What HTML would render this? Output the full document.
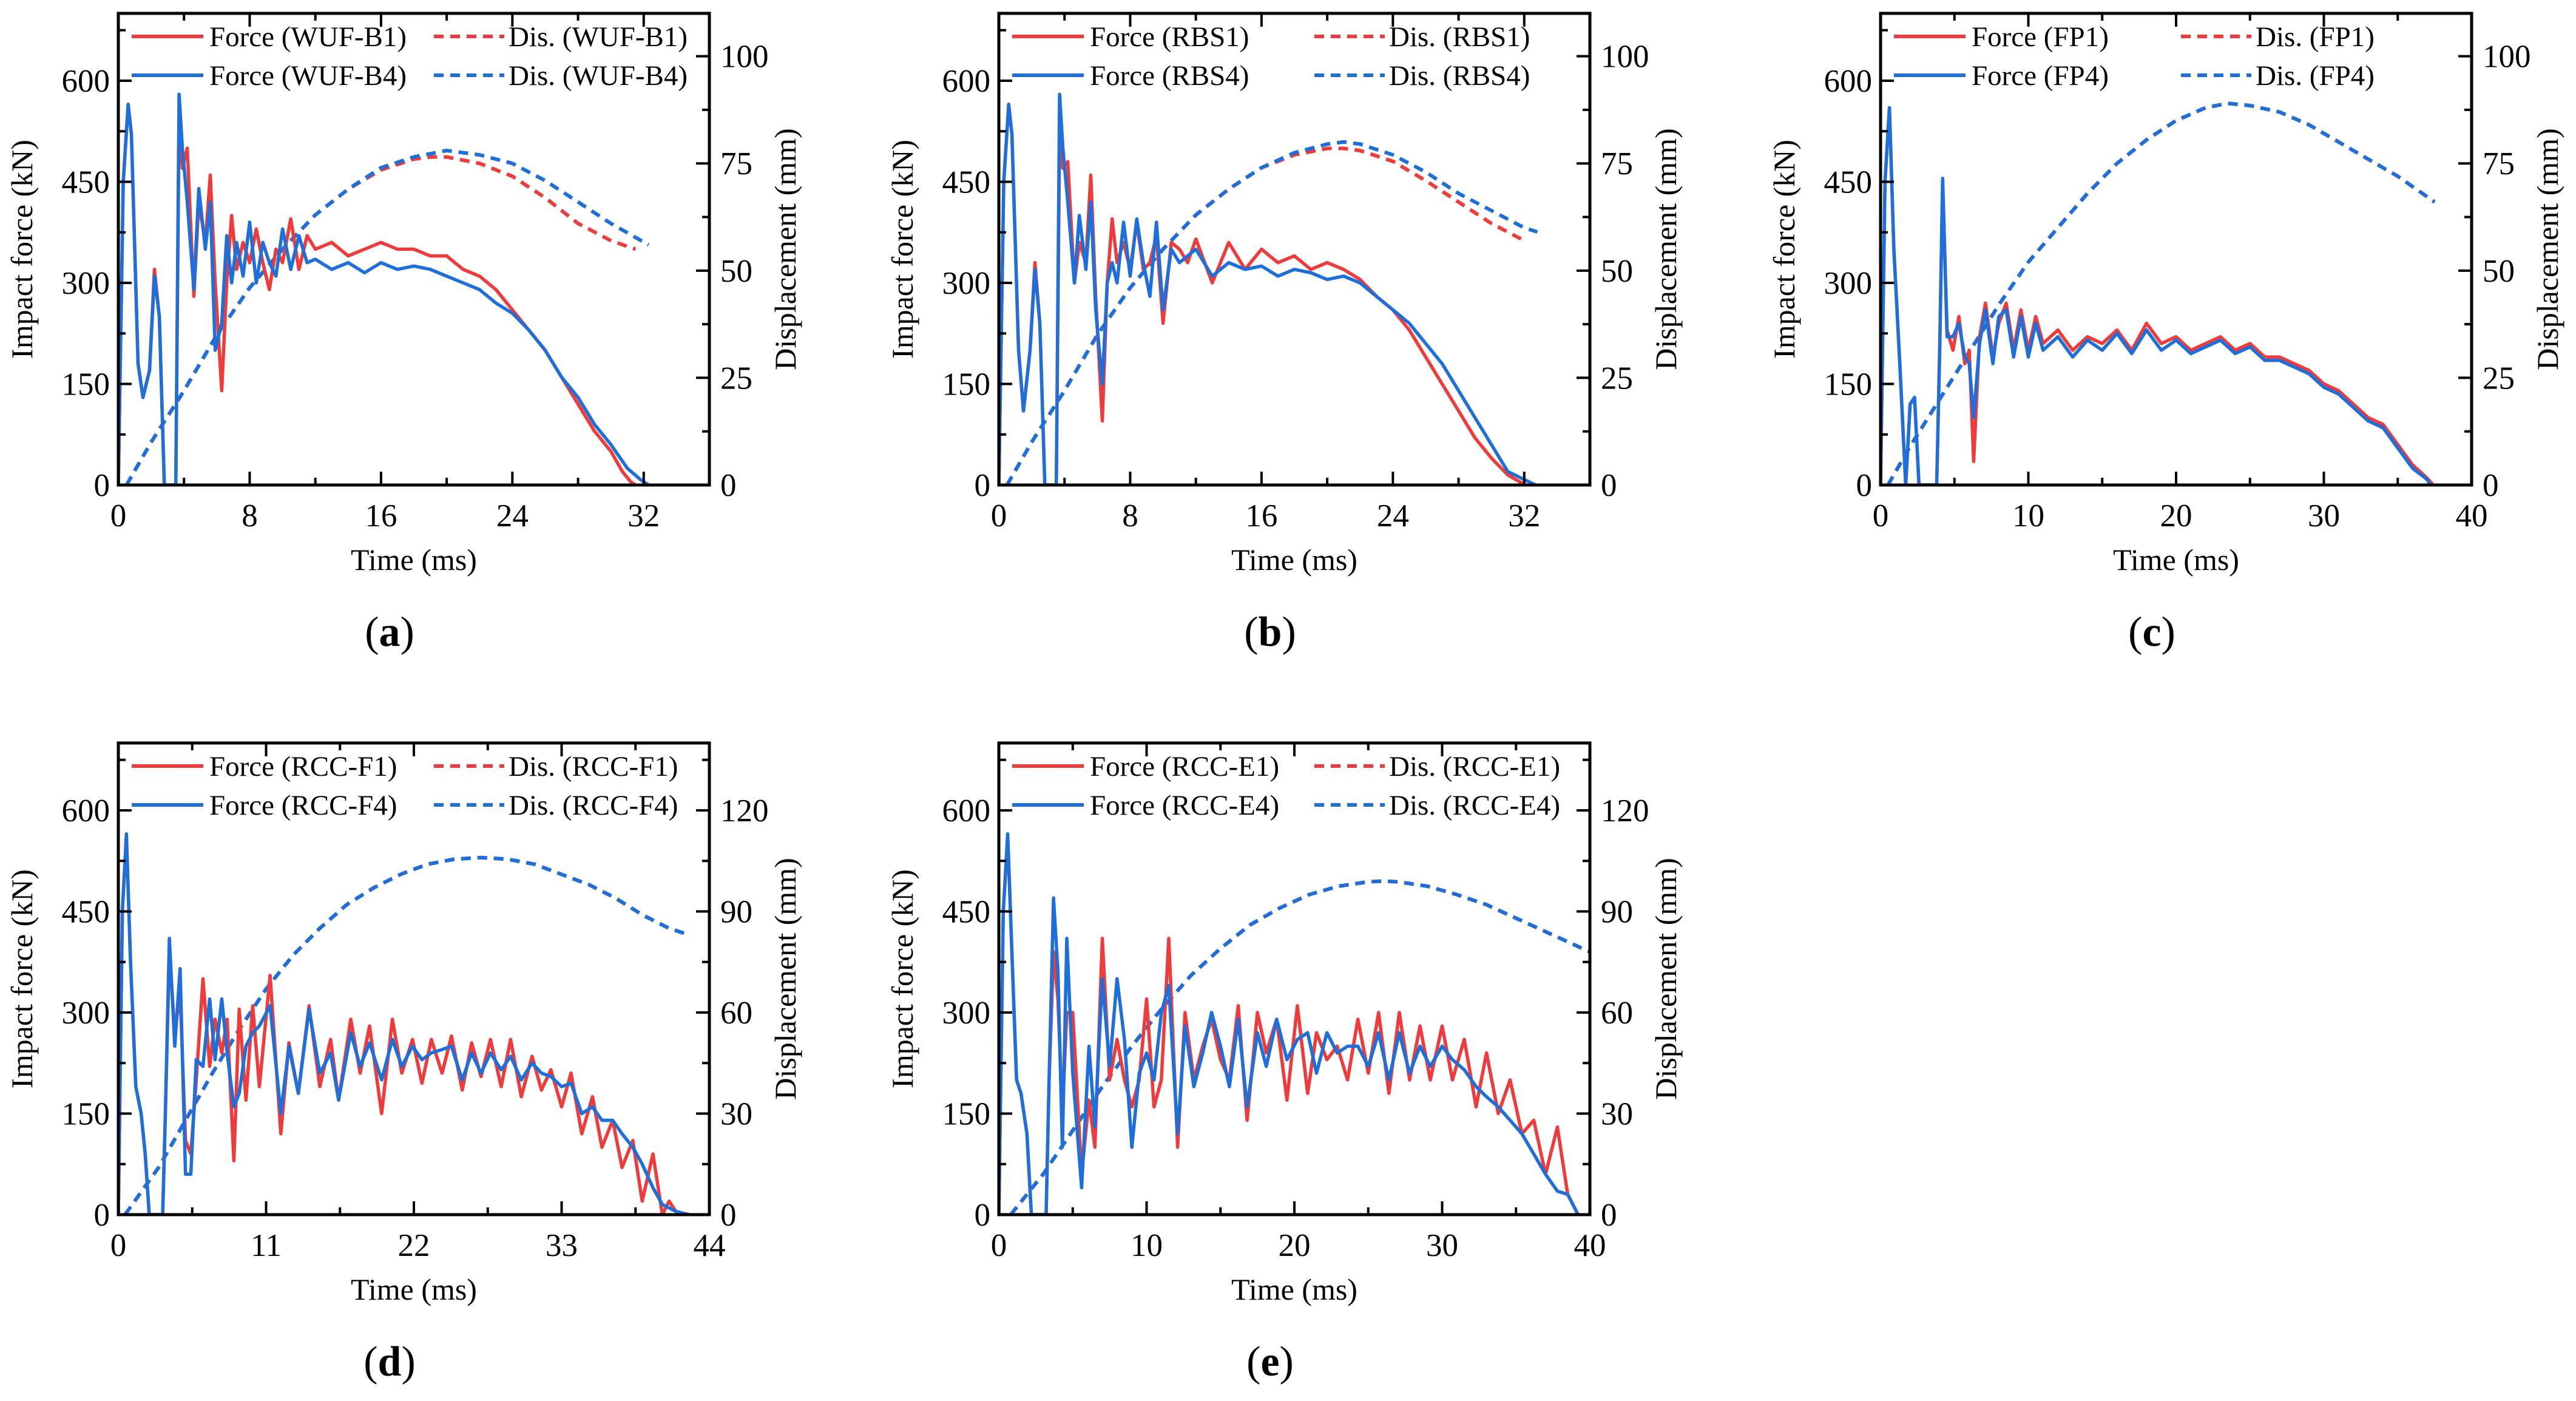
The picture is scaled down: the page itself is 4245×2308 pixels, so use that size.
<!DOCTYPE html>
<html><head><meta charset="utf-8">
<style>
html,body{margin:0;padding:0;background:#fff;}
svg{display:block;font-family:"Liberation Serif","Times New Roman",serif;}
</style></head>
<body>
<svg id="fig" width="4245" height="2308" viewBox="0 0 4245 2308" xmlns="http://www.w3.org/2000/svg"></svg>
<script>
// ---------- Panel (a) WUF ----------
const aF1t=[0,0.3,0.6,0.8,1.2,1.5,1.9,2.2,2.5,2.8,3.1,3.5,3.7,3.9,4.2,4.6,4.9,5.3,5.6,5.9,6.3,6.6,6.9,7.2,7.6,8,8.4,8.8,9.2,9.6,10,10.5,11,11.5,12,13,14,15,16,17,18,19,20,21,22,23,24,25,26,27,28,29,30,30.7,31.2,31.5];
const aF1v=[0,450,565,520,180,130,170,320,250,0,0,0,540,470,500,280,420,360,460,300,140,300,400,320,360,330,380,330,290,350,330,395,320,370,350,360,340,350,360,350,350,340,340,320,310,290,260,230,200,160,120,80,50,20,5,0];
const aF4t=[0,0.3,0.6,0.8,1.2,1.5,1.9,2.2,2.5,2.8,3.1,3.5,3.7,3.9,4.2,4.6,4.9,5.3,5.6,5.9,6.3,6.6,6.9,7.2,7.6,8,8.4,8.8,9.2,9.6,10,10.5,11,11.5,12,13,14,15,16,17,18,19,20,21,22,23,24,25,26,27,28,29,30,31,31.8,32.3];
const aF4v=[0,450,565,520,180,130,170,310,250,0,0,0,580,500,420,290,440,350,420,200,240,370,300,360,310,390,300,360,330,310,380,320,370,330,335,320,330,315,330,320,325,320,310,300,290,270,255,230,200,160,130,90,60,25,8,0];
const aD1t=[0.5,2,4,6,8,10,12,14,16,18,19,20,22,24,26,28,30,31.5];
const aD1v=[0,10,22,35,46,55,63,69,73.5,76,76.5,76.5,75,72,67,61,57,55];
const aD4t=[0.5,2,4,6,8,10,12,14,16,18,20,22,24,26,28,30,32.3];
const aD4v=[0,10,22,35,46,55,63,69,74,76.5,78,77,75,71,66,61,56];
// ---------- Panel (b) RBS ----------
const bF1t=[0,0.3,0.6,0.8,1.2,1.5,1.9,2.2,2.5,2.8,3.1,3.5,3.7,3.9,4.2,4.6,4.9,5.3,5.6,5.9,6.3,6.6,6.9,7.2,7.6,8,8.4,8.8,9.2,9.6,10,10.5,11,11.5,12,13,14,15,16,17,18,19,20,21,22,23,24,25,26,27,28,29,30,31,31.7,32.1];
const bF1v=[0,450,565,520,200,110,200,330,240,0,0,0,520,470,480,300,360,330,460,280,95,300,395,330,360,320,390,320,330,370,240,360,350,330,365,300,360,320,350,330,340,320,330,320,305,280,260,230,190,150,110,70,40,15,5,0];
const bF4t=[0,0.3,0.6,0.8,1.2,1.5,1.9,2.2,2.5,2.8,3.1,3.5,3.7,3.9,4.2,4.6,4.9,5.3,5.6,5.9,6.3,6.6,6.9,7.2,7.6,8,8.4,8.8,9.2,9.6,10,10.5,11,11.5,12,13,14,15,16,17,18,19,20,21,22,23,24,25,26,27,28,29,30,31,32,32.7];
const bF4v=[0,450,565,520,200,110,200,320,240,0,0,0,580,500,420,300,400,320,420,260,150,300,330,300,390,310,395,330,280,390,260,350,330,340,350,310,330,320,325,310,320,315,305,310,300,280,260,240,210,180,140,100,60,20,8,0];
const bD1t=[0.5,2,4,6,8,10,12,14,16,18,20,21,22,24,26,28,30,32];
const bD1v=[0,10,22,35,46,55,63,69,74,77,78.5,78.5,78,75.5,71,66,61,57];
const bD4t=[0.5,2,4,6,8,10,12,14,16,18,20,21,22,24,26,28,30,32,32.8];
const bD4v=[0,10,22,35,46,55,63,69,74,77.5,79.5,80,79.5,77,73,68,64,60,59];
// ---------- Panel (c) FP ----------
const cF1t=[0,0.3,0.6,0.9,1.3,1.7,2.0,2.3,2.6,2.9,3.3,3.8,4.0,4.2,4.5,4.9,5.3,5.7,6.0,6.3,6.7,7.1,7.6,8,8.5,9,9.5,10,10.5,11,12,13,14,15,16,17,18,19,20,21,22,23,24,25,26,27,28,29,30,31,32,33,34,35,36,37,37.4];
const cF1v=[0,450,560,350,180,0,120,130,0,0,0,0,200,450,230,200,250,180,200,35,220,270,190,240,270,200,260,200,250,210,230,200,220,210,230,200,240,210,220,200,210,220,200,210,190,190,180,170,150,140,120,100,90,60,30,10,0];
const cF4t=[0,0.3,0.6,0.9,1.3,1.7,2.0,2.3,2.6,2.9,3.3,3.8,4.0,4.2,4.5,4.9,5.3,5.7,6.0,6.3,6.7,7.1,7.6,8,8.5,9,9.5,10,10.5,11,12,13,14,15,16,17,18,19,20,21,22,23,24,25,26,27,28,29,30,31,32,33,34,35,36,37,37.2];
const cF4v=[0,450,560,350,180,0,120,130,0,0,0,0,200,455,220,220,240,190,180,100,210,260,180,250,260,190,250,190,240,200,220,190,215,200,225,195,230,200,215,195,205,215,195,205,185,185,175,165,145,135,115,95,85,55,25,8,0];
const cD1t=[0.5,2,4,6,8,10,12,14,16,18,20,22,23.5,25,27,29,31,33,35,37.5];
const cD1v=[0,9,20,31,42,52,60,68,75,80.5,85,88,89,88.5,87,84,80,76,72,66];
const cD4t=[0.5,2,4,6,8,10,12,14,16,18,20,22,23.5,25,27,29,31,33,35,37.5];
const cD4v=[0,9,20,31,42,52,60,68,75,80.5,85,88,89,88.5,87,84,80,76,72,66];
// ---------- Panel (d) RCC-F ----------
const dF1t=[0,0.3,0.6,0.9,1.3,1.7,2.0,2.3,3.3,3.5,3.8,4.2,4.6,5.0,5.4,5.8,6.3,6.8,7.2,7.7,8.1,8.6,9.0,9.5,10,10.5,11.3,12.1,12.7,13.4,14.2,15,15.8,16.4,17.3,18,18.7,19.6,20.4,21.1,21.9,22.6,23.3,24.1,24.8,25.6,26.3,27,27.7,28.5,29.2,30,30.8,31.5,32.2,33,33.7,34.5,35.3,36,36.8,37.5,38.3,39,39.8,40.5,41,41.5,42];
const dF1v=[0,450,560,380,190,150,90,0,0,150,390,270,330,110,90,200,350,220,290,240,290,80,305,170,310,190,355,120,255,180,310,190,260,170,290,210,280,150,290,210,260,195,260,210,265,185,255,205,260,190,260,175,235,185,215,160,210,120,175,100,140,70,110,20,90,0,20,5,0];
const dF4t=[0,0.3,0.6,0.9,1.3,1.7,2.0,2.3,3.3,3.5,3.8,4.2,4.6,5.0,5.4,5.8,6.3,6.8,7.2,7.7,8.1,8.6,9.0,9.5,10,10.5,11.3,12.1,12.7,13.4,14.2,15,15.8,16.4,17.3,18,18.7,19.6,20.4,21.1,21.9,22.6,23.3,24.1,24.8,25.6,26.3,27,27.7,28.5,29.2,30,30.8,31.5,32.2,33,33.7,34.5,35.3,36,36.8,37.5,38.3,39,39.8,40.5,41,41.5,42.5];
const dF4v=[0,450,565,380,190,150,90,0,0,150,410,250,365,60,60,230,220,320,230,320,240,160,180,250,270,280,310,150,250,180,305,210,240,170,270,220,255,200,260,220,250,230,240,245,250,200,240,210,240,215,235,200,225,210,205,190,195,150,160,140,140,120,100,75,40,15,10,5,0];
const dD1t=[0.5,3,5,7,9,11,13,15,17,19,21,23,25,27,29,31,33,35,37,39,41,42.5];
const dD1v=[0,14,28,42,55,67,77,85,92,97,101,104,105.5,106,105.5,104,101,98,94,89,85,83];
const dD4t=[0.5,3,5,7,9,11,13,15,17,19,21,23,25,27,29,31,33,35,37,39,41,42.5];
const dD4v=[0,14,28,42,55,67,77,85,92,97,101,104,105.5,106,105.5,104,101,98,94,89,85,83];
// ---------- Panel (e) RCC-E ----------
const eF1t=[0,0.3,0.6,0.9,1.2,1.5,1.9,2.2,3.2,3.4,3.7,4.0,4.3,4.6,5.0,5.6,6.1,6.5,7.0,7.5,8.0,8.5,9.0,9.5,10,10.5,11,11.5,12.1,12.6,13.2,13.8,14.4,15,15.6,16.2,16.8,17.5,18.1,18.8,19.5,20.2,20.9,21.5,22.2,22.9,23.6,24.3,25,25.7,26.4,27.1,27.8,28.5,29.2,30,30.7,31.5,32.3,33,33.8,34.6,35.4,36.2,37,37.8,38.5,39.2];
const eF1v=[0,450,560,380,200,180,120,0,0,200,390,320,150,300,300,60,170,100,410,200,260,200,160,200,320,160,200,410,100,300,200,250,290,230,200,310,140,300,240,290,170,310,180,270,230,250,200,290,210,300,180,300,200,280,200,280,200,260,160,240,150,200,120,140,60,130,30,0];
const eF4t=[0,0.3,0.6,0.9,1.2,1.5,1.9,2.2,3.2,3.4,3.7,4.0,4.3,4.6,5.0,5.6,6.1,6.5,7.0,7.5,8.0,8.5,9.0,9.5,10,10.5,11,11.5,12.1,12.6,13.2,13.8,14.4,15,15.6,16.2,16.8,17.5,18.1,18.8,19.5,20.2,20.9,21.5,22.2,22.9,23.6,24.3,25,25.7,26.4,27.1,27.8,28.5,29.2,30,30.7,31.5,32.3,33,33.8,34.6,35.4,36.2,37,37.8,38.5,39.2];
const eF4v=[0,450,565,380,200,180,120,0,0,200,470,360,100,410,210,40,250,130,350,220,350,260,100,210,240,200,300,340,120,280,190,240,300,250,190,290,160,270,220,290,230,260,270,210,270,240,250,250,220,270,200,270,210,250,220,250,230,215,190,175,160,140,120,90,60,35,30,0];
const eD1t=[0.8,3,5,7,9,11,13,15,17,19,21,23,25,26,27,29,31,33,35,37,40];
const eD1v=[0,12,25,38,50,61,71,79,86,91,95,97.5,98.8,99,98.8,97.5,95,92,88,84,78];
const eD4t=[0.8,3,5,7,9,11,13,15,17,19,21,23,25,26,27,29,31,33,35,37,40];
const eD4v=[0,12,25,38,50,61,71,79,86,91,95,97.5,98.8,99,98.8,97.5,95,92,88,84,78];
// ---------- Tick labels ----------
const xTicksA=[0,8,16,24,32];
const xTicksC=[0,10,20,30,40];
const xTicksD=[0,11,22,33,44];
const yTicksL=[0,150,300,450,600];
const yTicksR1=[0,25,50,75,100];
const yTicksR2=[0,30,60,90,120];

const NS="http://www.w3.org/2000/svg";
const svg=document.getElementById('fig');
const RED="#ee3b3b", BLUE="#1f6fdb";
function mk(tag,attrs,parent){const e=document.createElementNS(NS,tag);for(const k in attrs)e.setAttribute(k,attrs[k]);(parent||svg).appendChild(e);return e;}

const panels=[
 {id:'a',L:195,T:22,xmax:36,xt:xTicksA,xminor:4,rmax:110,rt:yTicksR1,rminor:12.5,n1:'WUF-B1',n4:'WUF-B4',F1t:aF1t,F1v:aF1v,F4t:aF4t,F4v:aF4v,D1t:aD1t,D1v:aD1v,D4t:aD4t,D4v:aD4v},
 {id:'b',L:1646,T:22,xmax:36,xt:xTicksA,xminor:4,rmax:110,rt:yTicksR1,rminor:12.5,n1:'RBS1',n4:'RBS4',F1t:bF1t,F1v:bF1v,F4t:bF4t,F4v:bF4v,D1t:bD1t,D1v:bD1v,D4t:bD4t,D4v:bD4v},
 {id:'c',L:3099,T:22,xmax:40,xt:xTicksC,xminor:5,rmax:110,rt:yTicksR1,rminor:12.5,n1:'FP1',n4:'FP4',F1t:cF1t,F1v:cF1v,F4t:cF4t,F4v:cF4v,D1t:cD1t,D1v:cD1v,D4t:cD4t,D4v:cD4v,dx:-25},
 {id:'d',L:195,T:1224,xmax:44,xt:xTicksD,xminor:5.5,rmax:140,rt:yTicksR2,rminor:15,n1:'RCC-F1',n4:'RCC-F4',F1t:dF1t,F1v:dF1v,F4t:dF4t,F4v:dF4v,D1t:dD1t,D1v:dD1v,D4t:dD4t,D4v:dD4v},
 {id:'e',L:1646,T:1224,xmax:40,xt:xTicksC,xminor:5,rmax:140,rt:yTicksR2,rminor:15,n1:'RCC-E1',n4:'RCC-E4',F1t:eF1t,F1v:eF1v,F4t:eF4t,F4v:eF4v,D1t:eD1t,D1v:eD1v,D4t:eD4t,D4v:eD4v}
];
const W=974,H=777,LMAX=700;

panels.forEach(p=>{
 const g=mk('g',{});
 
 
 const L=p.L,T=p.T,R=L+W,B=T+H;
 const sx=t=>L+t/p.xmax*W;
 const syL=v=>B-v/LMAX*H;
 const syR=v=>B-v/p.rmax*H;
 const clip=mk('clipPath',{id:'clip'+p.id},g);
 mk('rect',{x:L,y:T,width:W,height:H},clip);
 function path(ts,vs,sy,color,dash,name){
  let d='';
  for(let i=0;i<ts.length;i++){d+=(i?'L':'M')+sx(ts[i]).toFixed(1)+','+sy(vs[i]).toFixed(1);}
  const a={d:d,fill:'none',stroke:color,'stroke-width':dash?6:5.5,'stroke-linejoin':'round','clip-path':'url(#clip'+p.id+')'};
  if(dash)a['stroke-dasharray']='16 11';
  const e=mk('path',a,g);
  
  
 }
 path(p.D1t,p.D1v,syR,RED,true,'displacement-line-1');
 path(p.D4t,p.D4v,syR,BLUE,true,'displacement-line-4');
 path(p.F1t,p.F1v,syL,RED,false,'force-line-1');
 path(p.F4t,p.F4v,syL,BLUE,false,'force-line-4');
 const fr=mk('rect',{x:L,y:T,width:W,height:H,fill:'none',stroke:'#000','stroke-width':5},g);
 
 
 for(let t=0;t<=p.xmax+0.001;t+=p.xminor){
  const major=p.xt.some(v=>Math.abs(v-t)<1e-6);const len=major?22:12;
  mk('line',{x1:sx(t),y1:B,x2:sx(t),y2:B-len,stroke:'#000','stroke-width':4},g);
  mk('line',{x1:sx(t),y1:T,x2:sx(t),y2:T+len,stroke:'#000','stroke-width':4},g);
 }
 p.xt.forEach(t=>{
  const e=mk('text',{x:sx(t),y:B+68,'font-size':53,'text-anchor':'middle'},g);e.textContent=t;
  
  
 });
 for(let v=0;v<=LMAX;v+=75){
  const major=v%150===0;const len=major?22:12;
  mk('line',{x1:L,y1:syL(v),x2:L+len,y2:syL(v),stroke:'#000','stroke-width':4},g);
 }
 yTicksL.forEach(v=>{
  const e=mk('text',{x:L-14,y:syL(v)+18,'font-size':53,'text-anchor':'end'},g);e.textContent=v;
  
  
 });
 for(let v=0;v<=p.rmax+0.001;v+=p.rminor){
  const major=p.rt.some(x=>Math.abs(x-v)<1e-6);const len=major?22:12;
  mk('line',{x1:R,y1:syR(v),x2:R-len,y2:syR(v),stroke:'#000','stroke-width':4},g);
 }
 p.rt.forEach(v=>{
  const e=mk('text',{x:R+18,y:syR(v)+18,'font-size':53,'text-anchor':'start'},g);e.textContent=v;
  
  
 });
 let e=mk('text',{x:L+W/2,y:B+140,'font-size':50,'text-anchor':'middle'},g);e.textContent='Time (ms)';
 
 
 e=mk('text',{x:0,y:0,'font-size':50,'text-anchor':'middle',transform:'translate('+(L-142)+','+(T+H/2)+') rotate(-90)'},g);e.textContent='Impact force (kN)';
 
 
 e=mk('text',{x:0,y:0,'font-size':50,'text-anchor':'middle',transform:'translate('+(R+142)+','+(T+H/2)+') rotate(-90)'},g);e.textContent='Displacement (mm)';
 
 
 const dx=p.dx||0;
 const rows=[[RED,p.n1,T+38],[BLUE,p.n4,T+102]];
 rows.forEach((r,i)=>{
  const lg=mk('g',{},g);
  
  
  mk('line',{x1:L+22,y1:r[2],x2:L+140,y2:r[2],stroke:r[0],'stroke-width':6},lg);
  const t=mk('text',{x:L+150,y:r[2]+16,'font-size':47},lg);t.textContent='Force ('+r[1]+')';
  const lg2=mk('g',{},g);
  
  
  mk('line',{x1:L+520+dx,y1:r[2],x2:L+636+dx,y2:r[2],stroke:r[0],'stroke-width':6,'stroke-dasharray':'16 11'},lg2);
  const t2=mk('text',{x:L+643+dx,y:r[2]+16,'font-size':47},lg2);t2.textContent='Dis. ('+r[1]+')';
 });
 e=mk('text',{x:L+W/2-40,y:B+265,'font-size':70,'text-anchor':'middle'},g);
 e.innerHTML='(<tspan font-weight="bold">'+p.id+'</tspan>)';
 
 
});
</script>
</body></html>
